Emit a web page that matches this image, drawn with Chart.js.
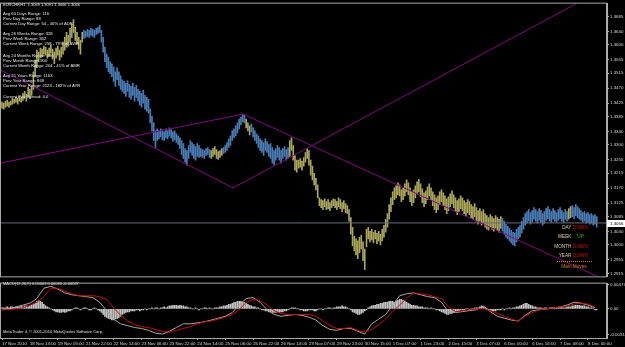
<!DOCTYPE html>
<html>
<head>
<meta charset="utf-8">
<script src="https://cdn.jsdelivr.net/npm/chart.js@4.4.0/dist/chart.umd.min.js"></script>
<style>
html, body { margin: 0; padding: 0; background: #000; overflow: hidden; }
#wrap { position: relative; width: 625px; height: 347px; }
#mainBox { position: absolute; left: 0; top: 0; width: 625px; height: 280px; }
#macdBox { position: absolute; left: 0; top: 280px; width: 625px; height: 67px; }
</style>
</head>
<body>
<div id="wrap">
  <div id="mainBox"><canvas id="mainChart"></canvas></div>
  <div id="macdBox"><canvas id="macdChart"></canvas></div>
</div>
<script>
// EURCHF H1, one entry per bar (bar 0 = 17 Nov 2010)
const symbol = 'EURCHF,H1';
const quote = [1.3069, 1.3091, 1.3066, 1.3066]; // open high low close of the last bar

const barHigh = [
  1.3428,1.3425,1.3431,1.3433,1.3428,1.3431,1.3439,1.3436,1.3442,1.3439,
  1.3445,1.3442,1.3454,1.3460,1.3451,1.3472,1.3466,1.3475,1.3519,1.3554,
  1.3584,1.3578,1.3590,1.3587,1.3596,1.3593,1.3584,1.3590,1.3599,1.3587,
  1.3578,1.3590,1.3596,1.3584,1.3593,1.3608,1.3622,1.3637,1.3628,1.3649,
  1.3661,1.3675,1.3652,1.3637,1.3622,1.3613,1.3637,1.3643,1.3640,1.3646,
  1.3643,1.3649,1.3646,1.3643,1.3649,1.3652,1.3658,1.3643,1.3622,1.3593,
  1.3572,1.3563,1.3549,1.3543,1.3534,1.3519,1.3531,1.3519,1.3507,1.3495,
  1.3490,1.3484,1.3492,1.3481,1.3475,1.3484,1.3472,1.3478,1.3466,1.3460,
  1.3454,1.3463,1.3448,1.3442,1.3436,1.3407,1.3386,1.3366,1.3342,1.3348,
  1.3342,1.3348,1.3345,1.3339,1.3348,1.3342,1.3351,1.3345,1.3339,1.3342,
  1.3333,1.3327,1.3321,1.3313,1.3304,1.3289,1.3283,1.3298,1.3313,1.3307,
  1.3301,1.3295,1.3304,1.3298,1.3289,1.3286,1.3283,1.3289,1.3292,1.3286,
  1.3283,1.3289,1.3295,1.3286,1.3280,1.3283,1.3289,1.3292,1.3298,1.3307,
  1.3318,1.3327,1.3342,1.3348,1.3357,1.3366,1.3377,1.3383,1.3392,1.3389,
  1.3377,1.3366,1.3357,1.3363,1.3351,1.3342,1.3333,1.3327,1.3318,1.3313,
  1.3307,1.3318,1.3310,1.3301,1.3304,1.3292,1.3283,1.3289,1.3298,1.3292,
  1.3283,1.3289,1.3295,1.3286,1.3292,1.3313,1.3321,1.3298,1.3268,1.3254,
  1.3254,1.3259,1.3251,1.3262,1.3277,1.3289,1.3283,1.3254,1.3236,1.3215,
  1.3200,1.3180,1.3141,1.3136,1.3133,1.3138,1.3130,1.3136,1.3127,1.3133,
  1.3138,1.3136,1.3130,1.3141,1.3136,1.3127,1.3133,1.3124,1.3118,1.3106,
  1.3082,1.3053,1.3026,1.3018,1.3012,1.3023,1.3029,1.3009,1.2988,1.3047,
  1.3053,1.3041,1.3047,1.3038,1.3044,1.3035,1.3041,1.3032,1.3047,1.3059,
  1.3077,1.3094,1.3121,1.3141,1.3159,1.3171,1.3177,1.3186,1.3180,1.3165,
  1.3171,1.3183,1.3195,1.3186,1.3171,1.3159,1.3165,1.3177,1.3189,1.3197,
  1.3183,1.3168,1.3156,1.3162,1.3174,1.3183,1.3171,1.3159,1.3150,1.3141,
  1.3147,1.3159,1.3165,1.3156,1.3147,1.3138,1.3144,1.3153,1.3162,1.3150,
  1.3141,1.3133,1.3138,1.3147,1.3141,1.3133,1.3127,1.3136,1.3130,1.3121,
  1.3115,1.3124,1.3112,1.3103,1.3109,1.3100,1.3106,1.3094,1.3088,1.3082,
  1.3091,1.3085,1.3079,1.3088,1.3082,1.3077,1.3085,1.3079,1.3071,1.3062,
  1.3056,1.3050,1.3044,1.3038,1.3035,1.3047,1.3053,1.3059,1.3071,1.3082,
  1.3094,1.3100,1.3106,1.3097,1.3103,1.3112,1.3106,1.3100,1.3109,1.3103,
  1.3094,1.3100,1.3109,1.3115,1.3106,1.3100,1.3109,1.3103,1.3097,1.3106,
  1.3112,1.3103,1.3097,1.3106,1.3100,1.3109,1.3115,1.3118,1.3112,1.3121,
  1.3115,1.3109,1.3103,1.3097,1.3100,1.3094,1.3097,1.3091,1.3094,1.3088,
  1.3091,1.3085
];
const barLow = [
  1.3410,1.3407,1.3413,1.3416,1.3413,1.3419,1.3422,1.3425,1.3428,1.3422,
  1.3431,1.3428,1.3433,1.3439,1.3431,1.3445,1.3439,1.3448,1.3466,1.3504,
  1.3531,1.3549,1.3563,1.3566,1.3572,1.3569,1.3560,1.3566,1.3575,1.3557,
  1.3543,1.3560,1.3569,1.3554,1.3563,1.3572,1.3584,1.3593,1.3596,1.3608,
  1.3622,1.3637,1.3613,1.3602,1.3587,1.3572,1.3608,1.3619,1.3622,1.3625,
  1.3622,1.3628,1.3625,1.3622,1.3631,1.3634,1.3637,1.3608,1.3578,1.3549,
  1.3531,1.3519,1.3513,1.3504,1.3490,1.3475,1.3495,1.3478,1.3466,1.3460,
  1.3454,1.3445,1.3460,1.3442,1.3436,1.3448,1.3431,1.3442,1.3431,1.3419,
  1.3413,1.3425,1.3407,1.3401,1.3395,1.3366,1.3342,1.3313,1.3292,1.3313,
  1.3318,1.3324,1.3315,1.3313,1.3321,1.3318,1.3327,1.3321,1.3310,1.3315,
  1.3307,1.3301,1.3289,1.3271,1.3259,1.3248,1.3239,1.3259,1.3277,1.3268,
  1.3259,1.3254,1.3265,1.3262,1.3265,1.3262,1.3259,1.3268,1.3271,1.3262,
  1.3259,1.3265,1.3271,1.3259,1.3256,1.3262,1.3268,1.3274,1.3277,1.3283,
  1.3292,1.3298,1.3313,1.3321,1.3327,1.3336,1.3348,1.3360,1.3369,1.3366,
  1.3351,1.3342,1.3330,1.3339,1.3324,1.3313,1.3304,1.3292,1.3283,1.3277,
  1.3268,1.3283,1.3277,1.3265,1.3259,1.3245,1.3239,1.3254,1.3262,1.3254,
  1.3245,1.3259,1.3265,1.3254,1.3259,1.3265,1.3283,1.3254,1.3224,1.3218,
  1.3230,1.3233,1.3224,1.3236,1.3248,1.3259,1.3239,1.3209,1.3195,1.3180,
  1.3165,1.3141,1.3118,1.3112,1.3106,1.3115,1.3106,1.3109,1.3103,1.3112,
  1.3118,1.3112,1.3106,1.3115,1.3109,1.3100,1.3109,1.3097,1.3094,1.3071,
  1.3032,1.2997,1.2982,1.2970,1.2959,1.2976,1.2988,1.2953,1.2926,1.2994,
  1.3018,1.3009,1.3015,1.3006,1.3018,1.3003,1.3012,1.3000,1.3012,1.3023,
  1.3038,1.3053,1.3077,1.3100,1.3121,1.3136,1.3141,1.3150,1.3147,1.3130,
  1.3136,1.3147,1.3159,1.3150,1.3130,1.3118,1.3127,1.3141,1.3153,1.3159,
  1.3144,1.3127,1.3115,1.3124,1.3136,1.3147,1.3136,1.3118,1.3106,1.3097,
  1.3106,1.3121,1.3130,1.3118,1.3106,1.3094,1.3103,1.3115,1.3124,1.3112,
  1.3100,1.3091,1.3100,1.3109,1.3103,1.3094,1.3088,1.3097,1.3091,1.3082,
  1.3077,1.3085,1.3071,1.3062,1.3071,1.3059,1.3065,1.3053,1.3047,1.3044,
  1.3053,1.3047,1.3041,1.3050,1.3044,1.3038,1.3050,1.3041,1.3032,1.3023,
  1.3018,1.3012,1.3006,1.3000,1.2997,1.3009,1.3018,1.3023,1.3035,1.3047,
  1.3059,1.3065,1.3071,1.3062,1.3068,1.3077,1.3071,1.3065,1.3074,1.3068,
  1.3059,1.3065,1.3074,1.3079,1.3071,1.3068,1.3077,1.3071,1.3068,1.3074,
  1.3079,1.3071,1.3068,1.3077,1.3071,1.3077,1.3082,1.3085,1.3079,1.3088,
  1.3082,1.3077,1.3074,1.3068,1.3071,1.3065,1.3068,1.3062,1.3065,1.3059,
  1.3062,1.3053
];
// runs of bar colour (yellow, blue, yellow, ...), in bars
const toneRuns = [47, 73, 7, 13, 3, 22, 122, 38, 2, 15];

// drawn trend lines: [barIndex, price] end points
const trendLines = [
  [[-1.15, 1.3245], [138.2, 1.3392]],
  [[138.2, 1.3392], [342.9, 1.2902]],
  [[-1.15, 1.3525], [132.5, 1.3171]],
  [[132.5, 1.3171], [330.3, 1.3726]]
];

// MACD(12,26,9): lines sampled every 4 bars, histogram every bar
const macdStep = 4;
const macdMain = [
  -0.00019,0,0.00037,0.00074,0.00112,0.00205,0.00409,0.00446,0.00391,0.00316,
  0.00279,0.00260,0.00242,0.00223,0.00130,-0.00037,-0.00205,-0.00298,-0.00335,-0.00372,
  -0.00391,-0.00428,-0.00484,-0.00502,-0.00446,-0.00372,-0.00298,-0.00298,-0.00279,-0.00260,
  -0.00223,-0.00186,-0.00149,-0.00074,0.00074,0.00205,0.00223,0.00130,-0.00019,-0.00112,
  -0.00149,-0.00130,-0.00112,-0.00130,-0.00167,-0.00223,-0.00335,-0.00409,-0.00428,-0.00391,
  -0.00391,-0.00446,-0.00502,-0.00298,-0.00205,-0.00112,0.00074,0.00260,0.00298,0.00316,
  0.00279,0.00242,0.00223,0.00130,-0.00056,-0.00074,-0.00056,-0.00037,-0.00019,0.00056,
  -0.00056,-0.00149,-0.00186,-0.00223,-0.00242,-0.00130,-0.00037,-0.00019,0,0.00019,
  0.00037,0.00074,0.00130,0.00112,0.00074,0.00019
];
const macdSignal = [
  -0.00019,-0.00019,0,0.00019,0.00074,0.00130,0.00242,0.00409,0.00409,0.00353,
  0.00298,0.00260,0.00260,0.00260,0.00242,0.00186,0.00019,-0.00130,-0.00242,-0.00316,
  -0.00353,-0.00372,-0.00409,-0.00446,-0.00465,-0.00428,-0.00391,-0.00353,-0.00298,-0.00260,
  -0.00242,-0.00205,-0.00167,-0.00112,-0.00019,0.00130,0.00186,0.00167,0.00074,-0.00037,
  -0.00093,-0.00112,-0.00112,-0.00112,-0.00112,-0.00149,-0.00242,-0.00335,-0.00391,-0.00391,
  -0.00372,-0.00428,-0.00465,-0.00409,-0.00316,-0.00205,-0.00056,0.00074,0.00205,0.00316,
  0.00298,0.00279,0.00242,0.00205,0.00037,-0.00056,-0.00037,-0.00019,0,0,
  -0.00037,-0.00093,-0.00149,-0.00205,-0.00242,-0.00149,-0.00074,-0.00019,0,0.00019,
  0.00037,0.00056,0.00093,0.00112,0.00093,0.00037
];
const macdHist = [
  0.0002,0.0002,0.0002,0.0004,0.0002,0.0004,0.0004,0.0002,0.0004,0.0004,0.0004,0.0006,0.0004,0.0006,0.0006,0.0004,0.0006,
  0.0007,0.0009,0.0011,0.0015,0.0017,0.0015,0.0013,0.0009,
  0.0006,0.0004,0.0002,0,
  -0.0002,-0.0004,-0.0006,-0.0006,-0.0007,-0.0007,-0.0006,-0.0007,-0.0006,-0.0004,-0.0004,-0.0002,
  0,0.0002,0.0002,0,-0.0002,0,0.0002,0.0002,0,-0.0002,-0.0002,0,0.0002,0,-0.0002,
  -0.0004,-0.0007,-0.0011,-0.0015,-0.0017,-0.0019,-0.0020,-0.0022,-0.0022,-0.0020,-0.0019,-0.0017,-0.0015,-0.0011,-0.0009,
  -0.0007,-0.0006,-0.0006,-0.0004,-0.0004,-0.0004,-0.0002,-0.0002,-0.0004,-0.0002,-0.0002,0,-0.0002,0,0,0.0002,0,0.0002,0.0002,0,0.0002,0.0002,0.0004,0.0002,
  0.0004,0.0006,0.0006,0.0007,0.0007,0.0007,0.0006,0.0007,0.0006,0.0006,0.0004,0.0004,0.0002,
  0.0002,0,0,0.0002,0,-0.0002,0,0,0.0002,0.0002,0,0.0002,0,0,0.0002,0.0002,0.0002,0.0004,0.0004,
  0.0006,0.0006,0.0007,0.0009,0.0009,0.0011,0.0013,0.0013,0.0015,0.0015,0.0015,0.0013,0.0013,0.0011,0.0009,
  0.0007,0.0006,0.0004,0.0004,0.0002,0.0002,0,-0.0002,-0.0002,-0.0004,-0.0004,-0.0006,-0.0006,
  -0.0007,-0.0007,-0.0007,-0.0006,-0.0007,-0.0006,-0.0006,-0.0004,-0.0004,-0.0002,
  0,0.0002,0.0002,0.0002,0,0,
  -0.0002,-0.0002,-0.0004,-0.0004,-0.0004,-0.0002,-0.0002,-0.0002,-0.0004,-0.0004,-0.0002,0,0,-0.0002,0,0,0.0002,0.0002,0,0.0002,0.0002,0.0004,0.0004,
  0.0004,0.0006,0.0004,0.0004,0.0002,0,-0.0002,
  -0.0006,-0.0007,-0.0009,-0.0011,-0.0011,-0.0009,-0.0007,-0.0004,-0.0002,
  0.0002,0.0004,0.0006,0.0007,0.0007,0.0009,0.0009,0.0011,0.0011,0.0013,0.0013,0.0013,0.0015,0.0015,0.0015,0.0013,0.0015,0.0017,
  0.0019,0.0019,0.0017,0.0015,0.0013,0.0011,
  0.0009,0.0007,0.0007,0.0006,0.0006,0.0004,0.0004,0.0004,0.0002,0.0002,0.0002,0,0.0002,0,0,-0.0002,-0.0002,-0.0004,-0.0006,
  -0.0007,-0.0009,-0.0011,-0.0011,-0.0009,-0.0009,-0.0007,-0.0006,
  -0.0004,-0.0004,-0.0002,-0.0002,-0.0002,0,0,-0.0002,0,0,0.0002,0.0002,0.0002,
  0.0004,0.0006,0.0004,0.0002,
  0,-0.0002,-0.0002,-0.0004,-0.0004,-0.0004,-0.0002,-0.0002,-0.0002,0,-0.0002,0,0,0.0002,0,0.0002,0.0002,0.0004,0.0004,
  0.0006,0.0007,0.0009,0.0011,0.0011,0.0009,0.0007,0.0006,0.0004,0.0004,
  0.0002,0.0002,0.0002,0,0.0002,0.0002,0,0.0002,0.0002,0.0002,0,0.0002,0.0002,0.0002,0.0004,0.0002,0.0002,0.0004,
  0.0004,0.0004,0.0006,0.0006,0.0007,0.0007,0.0007,0.0006,0.0006,0.0006,0.0004,0.0004,0.0002,0.0002,
  0,-0.0002,-0.0002
];
const macdText = 'MACD(12,26,9) 0.00003 0.00040 -0.00037';

// axis labels
const priceTicks = [1.3685,1.3640,1.3600,1.3555,1.3515,1.3470,1.3425,1.3385,1.3340,1.3300,
  1.3255,1.3215,1.3170,1.3125,1.3085,1.3040,1.3000,1.2955,1.2915];
const macdTicks = [0.00477, 0, -0.00511];
const labelEvery = 16; // bars between time labels
const timeLabels = ['17 Nov 2010','18 Nov 13:00','19 Nov 05:00','21 Nov 22:00','22 Nov 14:00',
  '23 Nov 06:00','23 Nov 22:00','24 Nov 14:00','25 Nov 06:00','25 Nov 22:00','26 Nov 14:00',
  '29 Nov 07:00','29 Nov 23:00','30 Nov 15:00','1 Dec 07:00','1 Dec 23:00','2 Dec 15:00',
  '3 Dec 07:00','6 Dec 00:00','6 Dec 16:00','7 Dec 08:00','8 Dec 00:00'];

// indicator text blocks
const rangeText = [
  'Avg 60 Days Range: 116', 'Prev Day Range: 88', 'Current Day Range: 54 - 46% of ADR',
  'Avg 26 Weeks Range: 328', 'Prev Week Range: 362', 'Current Week Range: 258 - 79% of AWR',
  'Avg 24 Months Range: 496', 'Prev Month Range: 900', 'Current Month Range: 204 - 41% of AMR',
  'Avg 21 Years Range: 1163', 'Prev Year Range: 868', 'Current Year Range: 2123 - 182% of AYR',
  'Current Pair Spread: 4.0'
];
const moveNames = ['DAY', 'WEEK', 'MONTH', 'YEAR'];
const moveDirs = ['DOWN', 'UP', 'DOWN', 'DOWN'];
const copyright = 'MetaTrader 4, \u00a9 2001-2010 MetaQuotes Software Corp.';

// ---------------------------------------------------------------
const FONT = 'Liberation Sans';
Chart.defaults.font.family = FONT;
Chart.defaults.color = '#d8d8d8';

const X_MIN = -1.15, X_MAX = 346.9;
const toneColors = ['#aaa75c', '#4a7db6'];
const barColors = [];
toneRuns.forEach((n, k) => { for (let j = 0; j < n; j++) barColors.push(toneColors[k % 2]); });

function frame(chart) {
    const { ctx, chartArea: a } = chart;
    ctx.strokeStyle = '#a8a8a8';
    ctx.lineWidth = 1;
    ctx.strokeRect(a.left + 0.5, a.top - 0.5, a.right - a.left - 1, a.bottom - a.top + 1);
}

const mainOverlay = {
    id: 'mainOverlay',
    afterDraw(chart) {
        const { ctx, scales } = chart;
        ctx.save();
        frame(chart);
        // last price box on the scale
        const py = Math.round(scales.y.getPixelForValue(quote[3]));
        ctx.fillStyle = '#ffffff';
        ctx.fillRect(607, py - 3, 18, 7);
        ctx.fillStyle = '#000000';
        ctx.font = '4.4px ' + FONT;
        ctx.textBaseline = 'middle';
        ctx.textAlign = 'left';
        ctx.fillText(quote[3].toFixed(4), 610, py + 0.5);

        ctx.fillStyle = '#e8e8e8';
        ctx.font = '4px ' + FONT;
        ctx.fillText(symbol + '  ' + quote.map(v => v.toFixed(4)).join(' '), 3, 5);
        const rows = [14.3, 19.3, 24.3, 34.3, 39.3, 44.3, 56, 61, 66, 76, 81, 86, 97.3];
        ctx.font = '4.2px ' + FONT;
        rangeText.forEach((t, i) => ctx.fillText(t, 3, rows[i]));

        // main moves panel
        const my = [227.5, 237, 246.5, 256];
        ctx.font = '4.7px ' + FONT;
        moveNames.forEach((n, i) => {
            ctx.textAlign = 'right';
            ctx.fillStyle = '#dccfae';
            ctx.fillText(n, 571.5, my[i]);
            ctx.textAlign = 'center';
            ctx.fillStyle = moveDirs[i] === 'UP' ? '#1cc41c' : '#d01414';
            ctx.fillText(moveDirs[i], 580.5, my[i]);
        });
        ctx.strokeStyle = '#d0821c';
        ctx.setLineDash([1, 1]);
        ctx.beginPath();
        ctx.moveTo(557, 261.5);
        ctx.lineTo(592, 261.5);
        ctx.stroke();
        ctx.setLineDash([]);
        ctx.fillStyle = '#d0821c';
        ctx.textAlign = 'center';
        ctx.fillText('Main Moves', 574, 267);
        ctx.restore();
    }
};

const macdOverlay = {
    id: 'macdOverlay',
    afterDraw(chart) {
        const { ctx } = chart;
        ctx.save();
        frame(chart);
        ctx.fillStyle = '#e0e0e0';
        ctx.textBaseline = 'middle';
        ctx.font = '4px ' + FONT;
        ctx.fillText(macdText, 3, 3.5);
        ctx.fillText(copyright, 3, 52);
        ctx.restore();
    }
};

const fixWidth = scale => { scale.width = 18; };

new Chart(document.getElementById('mainChart'), {
    type: 'bar',
    data: {
        datasets: [
            ...trendLines.map(seg => ({
                type: 'line',
                data: seg.map(p => ({ x: p[0], y: p[1] })),
                borderColor: '#820a82', borderWidth: 1, pointRadius: 0, order: 1
            })),
            {
                type: 'line',
                data: [{ x: X_MIN, y: quote[3] }, { x: X_MAX, y: quote[3] }],
                borderColor: '#6a6c7c', borderWidth: 1, pointRadius: 0, order: 1
            },
            {
                type: 'bar',
                data: barHigh.map((h, i) => ({ x: i, y: [barLow[i], h] })),
                backgroundColor: barColors,
                barThickness: 1,
                order: 2
            }
        ]
    },
    options: {
        responsive: true, maintainAspectRatio: false, animation: false, events: [],
        layout: { padding: { top: 1, bottom: 2, left: 0, right: 0 } },
        plugins: { legend: { display: false }, tooltip: { enabled: false } },
        scales: {
            x: { type: 'linear', min: X_MIN, max: X_MAX, offset: false, display: false },
            y: {
                position: 'right', min: 1.29059, max: 1.37231,
                afterFit: fixWidth,
                afterBuildTicks: s => { s.ticks = priceTicks.map(v => ({ value: v })); },
                ticks: { callback: v => v.toFixed(4), font: { size: 4.4 }, padding: 1, color: '#d8d8d8' },
                grid: { drawOnChartArea: false, tickLength: 2, color: '#b0b0b0' },
                border: { color: '#b0b0b0' }
            }
        }
    },
    plugins: [mainOverlay]
});

new Chart(document.getElementById('macdChart'), {
    type: 'bar',
    data: {
        datasets: [
            {
                type: 'line',
                data: macdSignal.map((v, k) => ({ x: k * macdStep, y: v })),
                borderColor: '#c80c0c', borderWidth: 1, pointRadius: 0, order: 1
            },
            {
                type: 'line',
                data: macdMain.map((v, k) => ({ x: k * macdStep, y: v })),
                borderColor: '#a8a8a8', borderWidth: 1, pointRadius: 0, order: 1
            },
            {
                type: 'bar',
                data: macdHist.map((v, i) => ({ x: i, y: v })),
                backgroundColor: '#c4c4c4',
                barThickness: 1,
                order: 2
            }
        ]
    },
    options: {
        responsive: true, maintainAspectRatio: false, animation: false, events: [],
        layout: { padding: 0 },
        plugins: { legend: { display: false }, tooltip: { enabled: false } },
        scales: {
            x: {
                type: 'linear', min: X_MIN, max: X_MAX, offset: false,
                afterFit: s => { s.height = 9; },
                afterBuildTicks: s => { s.ticks = timeLabels.map((_, j) => ({ value: j * labelEvery })); },
                ticks: {
                    callback: v => timeLabels[Math.round(v / labelEvery)],
                    autoSkip: false, maxRotation: 0, align: 'start',
                    font: { size: 4.4 }, padding: 1, color: '#d8d8d8'
                },
                grid: { drawOnChartArea: false, tickLength: 2, color: '#b0b0b0', offset: false },
                border: { color: '#b0b0b0' }
            },
            y: {
                position: 'right', min: -0.0058, max: 0.0050,
                afterFit: fixWidth,
                afterBuildTicks: s => { s.ticks = macdTicks.map(v => ({ value: v })); },
                ticks: { callback: v => (v === 0 ? '0.00' : v.toFixed(5)), font: { size: 4.4 }, padding: 1, color: '#d8d8d8' },
                grid: { drawOnChartArea: false, tickLength: 2, color: '#b0b0b0' },
                border: { color: '#b0b0b0' }
            }
        }
    },
    plugins: [macdOverlay]
});
</script>
</body>
</html>
